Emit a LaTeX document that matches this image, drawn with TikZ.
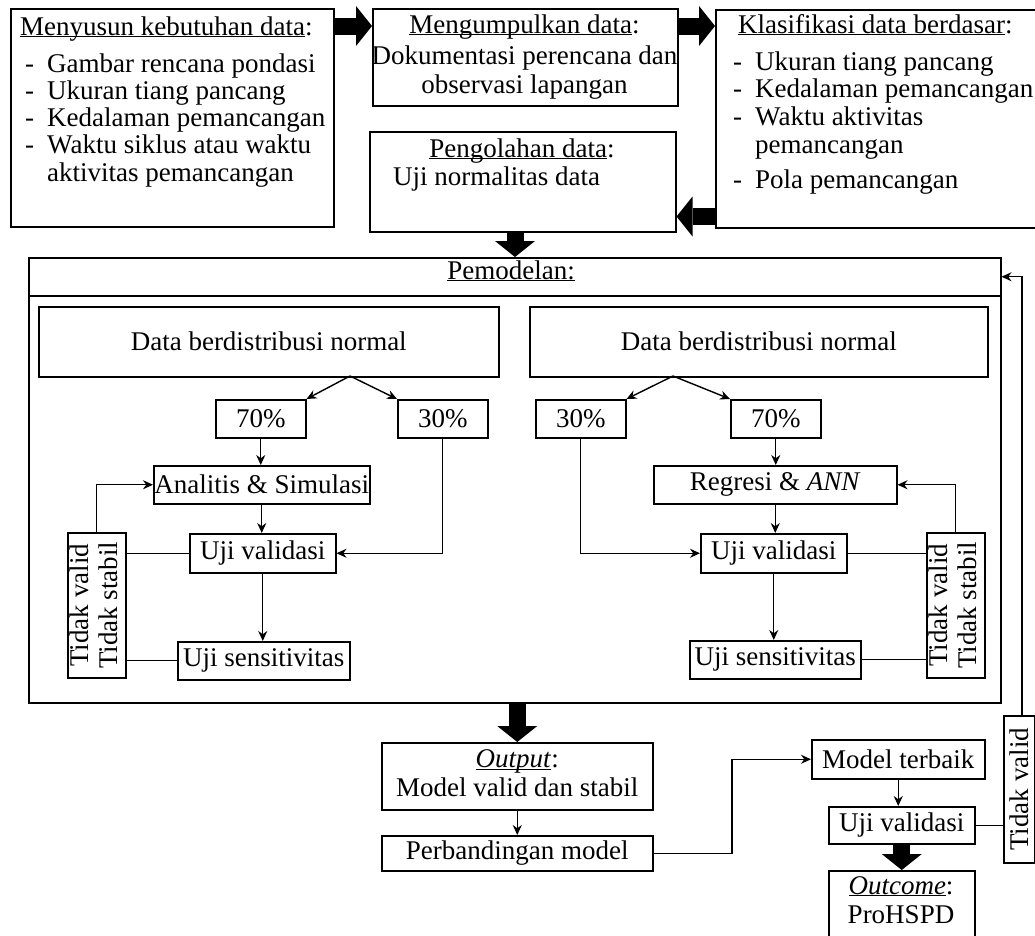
\documentclass[tikz,border=0pt]{standalone}
\usepackage{fontspec}
\usepackage{graphicx}
\setmainfont{Liberation Serif}
\usetikzlibrary{arrows.meta,calc}
\tikzset{
  box/.style={draw, line width=1.5pt, inner sep=0pt, anchor=north west},
  conn/.style={line width=1.4pt, -{Stealth[length=10pt,width=9pt]}},
  plain/.style={line width=1.4pt},
  fat/.style={line width=17pt, -{Triangle[length=16pt,width=40pt,line width=0pt]}},
  txt/.style={inner sep=0pt, anchor=base west},
}
\newcommand{\dsh}{\makebox[22pt][l]{-}}
\newcommand{\tdk}[1]{\rotatebox{90}{\begin{tabular}{@{}c@{}}#1\end{tabular}}}
\newcommand{\ul}[1]{\underline{\smash{#1}}}
\begin{document}
\begin{tikzpicture}[x=1pt,y=-1pt,font=\fontsize{27pt}{29pt}\selectfont]
\useasboundingbox (0,0) rectangle (1035,935);
\clip (0,0) rectangle (1035,935);

% ---- top row ----
\node[box, minimum width=323, minimum height=218] (b1) at (10,8) {};
\node[txt] (b1t0) at (20,35) {\ul{Menyusun kebutuhan data}:};
\node[txt] (b1t1) at (25,72) {\dsh Gambar rencana pondasi};
\node[txt] (b1t2) at (25,99) {\dsh Ukuran tiang pancang};
\node[txt] (b1t3) at (25,126) {\dsh Kedalaman pemancangan};
\node[txt] (b1t4) at (25,153) {\dsh Waktu siklus atau waktu};
\node[txt] (b1t5) at (47,181) {aktivitas pemancangan};

\node[box, minimum width=305, minimum height=97] (b2) at (372,8) {};
\node[txt, anchor=base] (b2t0) at (524.5,33) {\ul{Mengumpulkan data}:};
\node[txt, anchor=base] (b2t1) at (524.5,64) {Dokumentasi perencana dan};
\node[txt, anchor=base] (b2t2) at (524.5,93) {observasi lapangan};

\node[box, minimum width=306, minimum height=100] (b3) at (369,131) {};
\node[txt, anchor=base] (b3t0) at (522,157) {\ul{Pengolahan data}:};
\node[txt] (b3t1) at (393,185) {Uji normalitas data};

\node[box, minimum width=325, minimum height=218] (b4) at (715,9) {};
\node[txt] (b4t0) at (738,33) {\ul{Klasifikasi data berdasar}:};
\node[txt] (b4t1) at (733,70) {\dsh Ukuran tiang pancang};
\node[txt] (b4t2) at (733,97) {\dsh Kedalaman pemancangan};
\node[txt] (b4t3) at (733,125) {\dsh Waktu aktivitas};
\node[txt] (b4t4) at (755,153) {pemancangan};
\node[txt] (b4t5) at (733,188) {\dsh Pola pemancangan};

% ---- Pemodelan ----
\node[box, minimum width=972, minimum height=445] (pem) at (28,257) {};
\node[box, minimum width=972, minimum height=38] (pemhead) at (28,257) {};
\node[txt, anchor=base] (pemt) at (511,279) {\ul{Pemodelan:}};

% fat arrows top
\coordinate (fa1) at ([yshift=-18pt]b1.north east);
\draw[fat] (fa1) -- (fa1 -| b2.west);
\coordinate (fa2) at ([yshift=-18pt]b2.north east);
\draw[fat] (fa2) -- (fa2 -| b4.west);
\coordinate (fa3) at ([yshift=12pt]b4.south west);
\draw[fat] (fa3) -- (fa3 -| b3.east);
\coordinate (fx) at (515,0);
\draw[fat] (b3.south -| fx) -- (pemhead.north -| fx);

% left sub-model
\node[box, minimum width=460, minimum height=70] (dL) at (38,306) {Data berdistribusi normal};
\node[box, minimum width=90, minimum height=38] (p70L) at (215,399) {70\%};
\node[box, minimum width=90, minimum height=38] (p30L) at (397,399) {30\%};
\node[box, minimum width=216, minimum height=38] (anL) at (153,465) {Analitis \& Simulasi};
\node[box, minimum width=146, minimum height=39] (uvL) at (189,533) {Uji validasi};
\node[box, minimum width=172, minimum height=38] (usL) at (177,641) {Uji sensitivitas};
\node[box, minimum width=58, minimum height=145] (tdL) at (67,532) {\tdk{Tidak valid\\Tidak stabil}};

\coordinate (sL) at (350,376);
\draw[conn] (sL) -- (p70L.north east);
\draw[conn] (sL) -- (p30L.north west);
\draw[conn] (p70L.south) -- (p70L.south |- anL.north);
\draw[conn] (anL.south) -- (anL.south |- uvL.north);
\draw[conn] (uvL.south) -- (uvL.south |- usL.north);
\draw[conn] (p30L.south) |- (uvL.east);
\draw[plain] (uvL.west) -- (uvL.west -| tdL.east);
\draw[plain] (usL.west) -- (usL.west -| tdL.east);
\draw[conn] (tdL.north) |- (anL.west);

% right sub-model
\node[box, minimum width=458, minimum height=70] (dR) at (529,306) {Data berdistribusi normal};
\node[box, minimum width=90, minimum height=38] (p30R) at (535,399) {30\%};
\node[box, minimum width=90, minimum height=38] (p70R) at (730,399) {70\%};
\node[box, minimum width=243, minimum height=38] (rgR) at (653,465) {Regresi \& \textit{ANN}};
\node[box, minimum width=146, minimum height=39] (uvR) at (700,533) {Uji validasi};
\node[box, minimum width=171, minimum height=38] (usR) at (689,640) {Uji sensitivitas};
\node[box, minimum width=58, minimum height=145] (tdR) at (926,532) {\tdk{Tidak valid\\Tidak stabil}};

\coordinate (sR) at (673,376);
\draw[conn] (sR) -- (p30R.north east);
\draw[conn] (sR) -- (p70R.north west);
\draw[conn] (p70R.south) -- (p70R.south |- rgR.north);
\draw[conn] (rgR.south) -- (rgR.south |- uvR.north);
\draw[conn] (uvR.south) -- (uvR.south |- usR.north);
\draw[conn] (p30R.south) |- (uvR.west);
\draw[plain] (uvR.east) -- (uvR.east -| tdR.west);
\draw[plain] (usR.east) -- (usR.east -| tdR.west);
\draw[conn] (tdR.north) |- (rgR.east);

% bottom part
\node[box, minimum width=271, minimum height=67, align=center] (out) at (381,742) {\ul{\textit{Output}}:\\Model valid dan stabil};
\node[box, minimum width=271, minimum height=35] (perb) at (381,835) {Perbandingan model};
\node[box, minimum width=173, minimum height=39] (mt) at (811,739) {Model terbaik};
\node[box, minimum width=146, minimum height=37] (uvB) at (828,806) {Uji validasi};
\node[box, minimum width=146, minimum height=80] (oc) at (828,870) {};
\node[txt, anchor=base] (oct1) at (901,894) {\ul{\textit{Outcome}}:};
\node[txt, anchor=base] (oct2) at (901,923) {ProHSPD};
\node[box, minimum width=31, minimum height=147] (tdB) at (1003,715) {\rotatebox{90}{Tidak valid}};

\draw[fat] (out.north |- pem.south) -- (out.north);
\draw[conn] (out.south) -- (perb.north);
\coordinate (bx) at (732,0);
\draw[conn] (perb.east) -- (perb.east -| bx) |- (mt.west);
\draw[conn] (mt.south) -- (mt.south |- uvB.north);
\draw[fat] (uvB.south) -- (oc.north);
\draw[plain] (uvB.east) -- (uvB.east -| tdB.west);
\coordinate (fbx) at (1022,0);
\draw[conn] (tdB.north -| fbx) |- (pemhead.east);
\end{tikzpicture}
\end{document}
